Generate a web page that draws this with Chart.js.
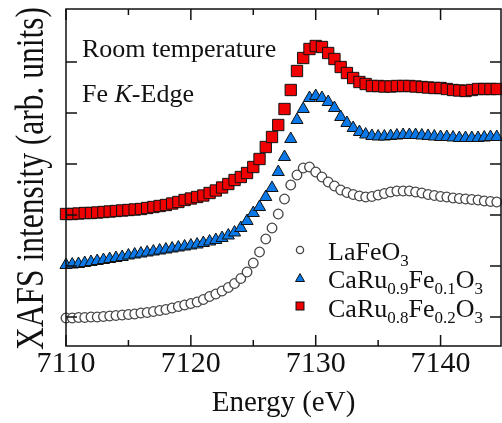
<!DOCTYPE html>
<html>
<head>
<meta charset="utf-8">
<script src="https://cdn.jsdelivr.net/npm/chart.js@4.4.0/dist/chart.umd.min.js"></script>
<style>
  html, body { margin: 0; padding: 0; background: #fff; overflow: hidden; }
  #wrap { width: 510px; height: 423px; }
</style>
</head>
<body>
<div id="wrap"><canvas id="xafs" width="510" height="423"></canvas></div>
<script>
// photon energy (eV)
const energy = [7110, 7110.5, 7111, 7111.5, 7112, 7112.5, 7113, 7113.5, 7114, 7114.5,
    7115, 7115.5, 7116, 7116.5, 7117, 7117.5, 7118, 7118.5, 7119, 7119.5,
    7120, 7120.5, 7121, 7121.5, 7122, 7122.5, 7123, 7123.5, 7124, 7124.5,
    7125, 7125.5, 7126, 7126.5, 7127, 7127.5, 7128, 7128.5, 7129, 7129.5,
    7130, 7130.5, 7131, 7131.5, 7132, 7132.5, 7133, 7133.5, 7134, 7134.5,
    7135, 7135.5, 7136, 7136.5, 7137, 7137.5, 7138, 7138.5, 7139, 7139.5,
    7140, 7140.5, 7141, 7141.5, 7142, 7142.5, 7143, 7143.5, 7144, 7144.5];

// intensities (arb. units, curves offset as in the figure)
const lafeo3 = [28, 28, 28.5, 28.5, 29, 29, 29.5, 30, 30.5, 31,
    31.5, 32, 33, 33.5, 34.5, 35.5, 36.5, 38, 39.5, 41,
    42.5, 44, 46.5, 49.5, 52, 55, 58.5, 62.5, 67.5, 74,
    83, 94, 107, 118, 132, 147, 161, 171, 178, 179,
    174, 169, 164, 160, 156, 153.5, 151.5, 150, 149, 149.5,
    151, 152.5, 154, 155, 155, 155, 154, 153, 151.5, 150.5,
    149.5, 149, 148, 147.5, 147, 146.5, 146, 145, 144.5, 144];

const caru09 = [81, 81.5, 82, 83, 84, 85, 86, 87, 88, 89,
    90.5, 91.5, 92.5, 93.5, 94.5, 95.5, 96.5, 97.5, 98.5, 99.5,
    100.5, 101.5, 103, 104.5, 106, 108, 110.5, 113.5, 118, 125,
    133, 139, 149, 158, 174, 189, 207, 226, 237, 248,
    250, 248, 244, 238, 229, 223, 218, 214, 211.5, 210,
    209.5, 209.5, 210, 210.5, 211, 211, 211, 210.5, 210, 209.5,
    209, 209, 208.5, 208, 208, 208, 208, 208.5, 209, 209];

const caru08 = [132, 132, 132.5, 133, 133, 133.5, 134, 134.5, 135, 135.5,
    136, 136.5, 137, 138, 139, 140, 141, 142.5, 144, 146,
    147.5, 149, 150.5, 153, 155.5, 158.5, 162, 166, 169, 173,
    179, 187, 199, 209, 221, 237, 256, 275, 288, 297,
    300, 299, 293, 287, 279, 273, 268, 264, 262, 260,
    260, 259.5, 259.5, 260, 260, 260, 259.5, 259, 258.5, 258,
    258, 257, 256, 255.5, 255, 256, 257, 257, 257, 257];

const xMajorTicks = [7110, 7120, 7130, 7140];
const xMinorTicks = [7115, 7125, 7135];
const yTicks = [29, 80, 131, 182, 233, 284];

const SERIF = '"Liberation Serif", serif';
const RED = '#f00000';
const BLUE = '#0a78e6';

function toPoints(values){
    let pts = [];
    for(let i = 0; i < values.length; i++){
        pts.push({x: energy[i], y: values[i]});
    }
    return pts;
}

// frame + inward ticks on all four sides
const framePlugin = {
    id: 'frame',
    afterDatasetsDraw(chart){
        const {ctx, chartArea, scales} = chart;
        const {left, right, top, bottom} = chartArea;
        ctx.save();
        ctx.strokeStyle = '#111';
        ctx.lineWidth = 1.5;
        ctx.strokeRect(left, top, right - left, bottom - top);
        ctx.beginPath();
        xMajorTicks.forEach(v => {
            const x = scales.x.getPixelForValue(v);
            ctx.moveTo(x, bottom); ctx.lineTo(x, bottom - 11);
            ctx.moveTo(x, top); ctx.lineTo(x, top + 11);
        });
        xMinorTicks.forEach(v => {
            const x = scales.x.getPixelForValue(v);
            ctx.moveTo(x, bottom); ctx.lineTo(x, bottom - 6);
            ctx.moveTo(x, top); ctx.lineTo(x, top + 6);
        });
        yTicks.forEach(v => {
            const y = scales.y.getPixelForValue(v);
            ctx.moveTo(left, y); ctx.lineTo(left + 11, y);
            ctx.moveTo(right, y); ctx.lineTo(right - 11, y);
        });
        ctx.stroke();
        ctx.restore();
    },
    afterDraw(chart){
        const ctx = chart.ctx;
        const area = chart.chartArea;
        ctx.save();
        ctx.fillStyle = '#111';

        // y title, glyphs a bit taller than wide like the original
        ctx.save();
        ctx.translate(43, (area.top + area.bottom) / 2 + 1);
        ctx.rotate(-Math.PI / 2);
        ctx.scale(1, 1.3);
        ctx.font = '31.5px ' + SERIF;
        ctx.textAlign = 'center';
        ctx.textBaseline = 'alphabetic';
        ctx.fillText('XAFS intensity (arb. units)', 0, 0);
        ctx.restore();

        // annotations
        ctx.textAlign = 'left';
        ctx.textBaseline = 'alphabetic';
        ctx.font = '26px ' + SERIF;
        ctx.fillText('Room temperature', 82, 57);
        let x = 82;
        ctx.fillText('Fe ', x, 102);
        x += ctx.measureText('Fe ').width;
        ctx.font = 'italic 26px ' + SERIF;
        ctx.fillText('K', x, 102);
        x += ctx.measureText('K').width;
        ctx.font = '26px ' + SERIF;
        ctx.fillText('-Edge', x, 102);

        // legend
        const rows = [
            {parts: [['LaFeO', 0], ['3', 1]], y: 260},
            {parts: [['CaRu', 0], ['0.9', 1], ['Fe', 0], ['0.1', 1], ['O', 0], ['3', 1]], y: 288},
            {parts: [['CaRu', 0], ['0.8', 1], ['Fe', 0], ['0.2', 1], ['O', 0], ['3', 1]], y: 317}
        ];
        rows.forEach(row => {
            let tx = 328;
            row.parts.forEach(([txt, sub]) => {
                ctx.font = (sub ? '17px ' : '26px ') + SERIF;
                ctx.fillText(txt, tx, row.y + (sub ? 6 : 0));
                tx += ctx.measureText(txt).width;
            });
        });

        // circle
        ctx.beginPath();
        ctx.arc(300, 250, 3.6, 0, Math.PI * 2);
        ctx.fillStyle = '#fff';
        ctx.fill();
        ctx.strokeStyle = '#444';
        ctx.lineWidth = 1.3;
        ctx.stroke();
        // triangle
        ctx.beginPath();
        ctx.moveTo(300, 273.5);
        ctx.lineTo(304.5, 281.5);
        ctx.lineTo(295.5, 281.5);
        ctx.closePath();
        ctx.fillStyle = BLUE;
        ctx.fill();
        ctx.strokeStyle = '#111';
        ctx.lineWidth = 1;
        ctx.stroke();
        // square
        ctx.fillStyle = RED;
        ctx.fillRect(296, 302, 8, 8);
        ctx.strokeRect(296, 302, 8, 8);
        ctx.restore();
    }
};

function buildChart(){
    return new Chart(document.getElementById('xafs'), {
        type: 'scatter',
        data: {
            datasets: [
                {
                    label: 'LaFeO3',
                    data: toPoints(lafeo3),
                    pointStyle: 'circle',
                    pointRadius: 4.8,
                    pointBackgroundColor: '#fff',
                    pointBorderColor: '#444',
                    pointBorderWidth: 1.3,
                    clip: false
                },
                {
                    label: 'CaRu0.9Fe0.1O3',
                    data: toPoints(caru09),
                    pointStyle: 'triangle',
                    pointRadius: 7,
                    pointBackgroundColor: BLUE,
                    pointBorderColor: '#111',
                    pointBorderWidth: 1,
                    clip: false
                },
                {
                    label: 'CaRu0.8Fe0.2O3',
                    data: toPoints(caru08),
                    pointStyle: 'rect',
                    pointRadius: 8,
                    pointBackgroundColor: RED,
                    pointBorderColor: '#111',
                    pointBorderWidth: 1,
                    clip: false
                }
            ]
        },
        options: {
            responsive: false,
            animation: false,
            events: [],
            layout: { padding: { top: 9, right: 5, left: 0, bottom: 0 } },
            plugins: {
                legend: { display: false },
                tooltip: { enabled: false }
            },
            scales: {
                x: {
                    type: 'linear',
                    min: 7110,
                    max: 7144.84,
                    afterBuildTicks: (scale) => {
                        scale.ticks = xMajorTicks.map(v => ({value: v}));
                    },
                    afterFit: (scale) => { scale.height = 77; },
                    grid: { display: false, drawTicks: false },
                    border: { display: false },
                    ticks: {
                        color: '#111',
                        padding: 3,
                        maxRotation: 0,
                        autoSkip: false,
                        callback: (v) => String(v),
                        font: { family: SERIF, size: 30, lineHeight: 1 }
                    },
                    title: {
                        display: true,
                        text: 'Energy (eV)',
                        color: '#111',
                        padding: { top: 0, bottom: 5.5 },
                        font: { family: SERIF, size: 29, lineHeight: 1 }
                    }
                },
                y: {
                    type: 'linear',
                    min: 0,
                    max: 337,
                    afterFit: (scale) => { scale.width = 66; },
                    grid: { display: false, drawTicks: false },
                    border: { display: false },
                    ticks: { display: false },
                    title: { display: false }
                }
            }
        },
        plugins: [framePlugin]
    });
}

let chart;
Promise.all([
    document.fonts.load('26px "Liberation Serif"'),
    document.fonts.load('italic 26px "Liberation Serif"')
]).catch(() => null).then(() => {
    chart = buildChart();
});
</script>
</body>
</html>
